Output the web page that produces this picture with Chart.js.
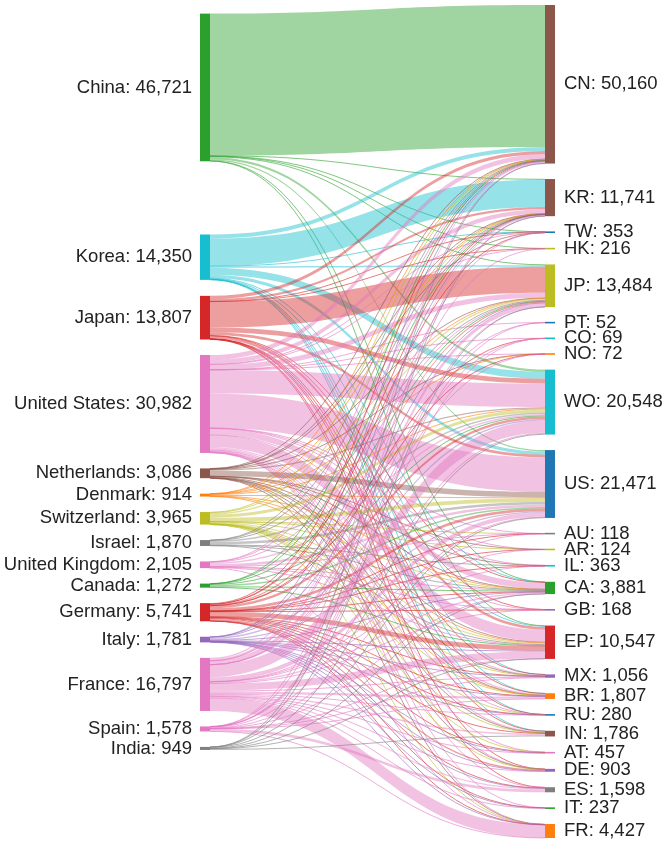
<!DOCTYPE html>
<html>
<head>
<meta charset="utf-8">
<script src="https://cdn.jsdelivr.net/npm/chart.js@4.4.1/dist/chart.umd.min.js"></script>
<style>
html,body{margin:0;padding:0;background:#ffffff;}
#wrap{width:666px;height:843px;position:relative;}
</style>
</head>
<body>
<div id="wrap"><canvas id="chart"></canvas></div>
<script>
// ---------------- data ----------------
const sources = ['China','Korea','Japan','United States','Netherlands','Denmark','Switzerland','Israel','United Kingdom','Canada','Germany','Italy','France','Spain','India'];
const targets = ['CN','KR','TW','HK','JP','PT','CO','NO','WO','US','AU','AR','IL','CA','GB','EP','MX','BR','RU','IN','AT','DE','ES','IT','FR'];

// flows from each source, in the order of `targets`
const fromChina       = [44900,150,20,100,250,0,0,0,700,471,0,0,0,30,0,100,0,0,0,0,0,0,0,0,0];
const fromKorea       = [1300,8700,30,0,500,0,0,0,2200,1020,0,0,0,100,0,300,30,70,20,80,0,0,0,0,0];
const fromJapan       = [1000,700,100,40,8200,0,0,0,1500,871,0,0,0,200,8,900,40,60,20,80,0,40,48,0,0];
const fromUS          = [1500,1350,150,50,1600,15,30,20,7500,10847,60,40,100,2000,40,3800,400,500,60,450,50,100,150,20,150];
const fromNetherlands = [100,50,13,0,150,0,0,10,400,1764,0,10,10,100,0,300,30,60,0,46,0,33,0,0,10];
const fromDenmark     = [50,20,0,0,60,0,0,12,300,265,0,0,0,30,0,150,0,27,0,0,0,0,0,0,0];
const fromSwitzerland = [200,100,0,0,500,0,0,0,1000,1215,10,10,0,150,0,400,60,120,20,80,30,50,0,0,20];
const fromIsrael      = [50,50,0,0,150,0,0,0,400,790,0,0,200,80,0,150,0,0,0,0,0,0,0,0,0];
const fromUK          = [100,60,0,0,200,0,0,0,500,788,10,0,0,100,80,250,0,0,0,0,0,0,0,0,17];
const fromCanada      = [50,20,0,0,80,0,0,0,300,422,0,0,0,300,0,100,0,0,0,0,0,0,0,0,0];
const fromGermany     = [300,100,20,0,400,0,9,10,800,870,8,14,13,150,10,1500,100,200,40,200,250,500,150,17,80];
const fromItaly       = [50,20,0,0,150,0,0,0,500,398,0,0,0,50,0,250,16,40,20,0,27,30,50,150,30];
const fromFrance      = [500,400,20,26,1200,20,20,20,3900,1391,30,50,40,500,30,2200,350,700,100,500,100,150,400,50,4100];
const fromSpain       = [30,10,0,0,30,17,10,0,300,171,0,0,0,30,0,100,30,30,0,0,0,0,800,0,20];
const fromIndia       = [30,11,0,0,14,0,0,0,248,188,0,0,0,61,0,47,0,0,0,350,0,0,0,0,0];

const flows = [fromChina, fromKorea, fromJapan, fromUS, fromNetherlands, fromDenmark, fromSwitzerland,
  fromIsrael, fromUK, fromCanada, fromGermany, fromItaly, fromFrance, fromSpain, fromIndia];

// ---------------- style ----------------
const C = {blue:'#1f77b4',orange:'#ff7f0e',green:'#2ca02c',red:'#d62728',purple:'#9467bd',
  brown:'#8c564b',pink:'#e377c2',gray:'#7f7f7f',olive:'#bcbd22',cyan:'#17becf'};
const sourceColors = [C.green,C.cyan,C.red,C.pink,C.brown,C.orange,C.olive,C.gray,C.pink,C.green,C.red,C.purple,C.pink,C.pink,C.gray];
const targetColors = [C.brown,C.brown,C.blue,C.olive,C.olive,C.blue,C.cyan,C.orange,C.cyan,C.blue,C.gray,C.olive,C.cyan,C.green,C.purple,C.red,C.purple,C.orange,C.blue,C.brown,C.pink,C.purple,C.gray,C.green,C.orange];
const NODE_PAD = 4900;     // gap between nodes, in value units
const NODE_W = 10;         // node thickness in px
const LINK_ALPHA = 0.45;
const THIN_ALPHA = 0.6;
const FIT_POWER = 1.38;    // how strongly big nodes hold their preferred place
const FONT = '18.5px "Liberation Sans", Arial, sans-serif';
const TEXT_COLOR = '#222222';

function rgba(hex, a){
  const n = parseInt(hex.slice(1),16);
  return `rgba(${(n>>16)&255},${(n>>8)&255},${n&255},${a})`;
}

const sourceTotals = flows.map(r => r.reduce((a,b)=>a+b,0));
const targetTotals = targets.map((_,j) => flows.reduce((a,r)=>a+r[j],0));
const Y_MAX = targetTotals.reduce((a,b)=>a+b,0) + (targets.length-1)*NODE_PAD;

function layout(){
  // right column: stacked in order
  const tY0 = []; let acc = 0;
  targets.forEach((_,j)=>{ tY0[j] = acc; acc += targetTotals[j] + NODE_PAD; });
  // offsets of each link inside its source / target node
  const outOff = flows.map(r => { let o=0; return r.map(v => { const s=o; o+=v; return s; }); });
  const inOff = flows.map(()=>[]);
  targets.forEach((_,j)=>{ let o=0; flows.forEach((r,i)=>{ inOff[i][j]=o; o+=r[j]; }); });
  // left column: ideal position making links as straight as possible
  const ideal = flows.map((r,i)=>{
    let num=0, den=0;
    r.forEach((v,j)=>{ if(v>0){ num += v*(tY0[j]+inOff[i][j]-outOff[i][j]); den += v; } });
    return num/den;
  });
  // keep order and padding: weighted isotonic fit (pool adjacent violators)
  const n = sources.length, c = []; let cc = 0;
  for(let i=0;i<n;i++){ c[i]=cc; cc += sourceTotals[i] + NODE_PAD; }
  const blocks = [];
  for(let i=0;i<n;i++){
    blocks.push({v: ideal[i]-c[i], w: Math.pow(sourceTotals[i], FIT_POWER), k: 1});
    while(blocks.length>1 && blocks[blocks.length-2].v > blocks[blocks.length-1].v){
      const b = blocks.pop(), a = blocks.pop();
      blocks.push({v:(a.v*a.w+b.v*b.w)/(a.w+b.w), w:a.w+b.w, k:a.k+b.k});
    }
  }
  const zMax = Y_MAX - c[n-1] - sourceTotals[n-1];
  const sY0 = []; let idx = 0;
  blocks.forEach(b=>{ const z=Math.min(Math.max(b.v,0),zMax); for(let t=0;t<b.k;t++){ sY0[idx]=z+c[idx]; idx++; } });
  return {tY0, sY0, outOff, inOff};
}

const sankeyPlugin = {
  id:'sankey',
  afterDatasetsDraw(chart){
    const {ctx} = chart;
    const xs = chart.scales.x, ys = chart.scales.y;
    const L = layout();
    const xL0 = xs.getPixelForValue(0), xL1 = xL0 + NODE_W;
    const xR1 = xs.getPixelForValue(1), xR0 = xR1 - NODE_W;
    const xm = (xL1 + xR0)/2;
    ctx.save();
    // links
    flows.forEach((r,i)=>{
      r.forEach((v,j)=>{
        if(!(v>0)) return;
        const a0 = L.sY0[i] + L.outOff[i][j];
        const b0 = L.tY0[j] + L.inOff[i][j];
        const ya0 = ys.getPixelForValue(a0), ya1 = ys.getPixelForValue(a0+v);
        const yb0 = ys.getPixelForValue(b0), yb1 = ys.getPixelForValue(b0+v);
        const w = ya1 - ya0;
        if(w >= 1.2){
          ctx.beginPath();
          ctx.moveTo(xL1, ya0);
          ctx.bezierCurveTo(xm, ya0, xm, yb0, xR0, yb0);
          ctx.lineTo(xR0, yb1);
          ctx.bezierCurveTo(xm, yb1, xm, ya1, xL1, ya1);
          ctx.closePath();
          ctx.fillStyle = rgba(sourceColors[i], LINK_ALPHA);
          ctx.fill();
        } else {
          const ca = (ya0+ya1)/2, cb = (yb0+yb1)/2;
          ctx.beginPath();
          ctx.moveTo(xL1, ca);
          ctx.bezierCurveTo(xm, ca, xm, cb, xR0, cb);
          ctx.lineWidth = 1;
          ctx.strokeStyle = rgba(sourceColors[i], THIN_ALPHA);
          ctx.stroke();
        }
      });
    });
    // nodes + labels
    ctx.font = FONT;
    ctx.textBaseline = 'middle';
    const drawNode = (x0, y0v, val, color) => {
      let p0 = ys.getPixelForValue(y0v), p1 = ys.getPixelForValue(y0v+val);
      if(p1-p0 < 1.6){ const m=(p0+p1)/2; p0=m-0.8; p1=m+0.8; }
      ctx.fillStyle = color;
      ctx.fillRect(x0, p0, NODE_W, p1-p0);
      return (p0+p1)/2;
    };
    sources.forEach((name,i)=>{
      const cy = drawNode(xL0, L.sY0[i], sourceTotals[i], sourceColors[i]);
      ctx.fillStyle = TEXT_COLOR; ctx.textAlign = 'right';
      ctx.fillText(name + ': ' + sourceTotals[i].toLocaleString('en-US'), xL0 - 8, cy);
    });
    targets.forEach((name,j)=>{
      const cy = drawNode(xR0, L.tY0[j], targetTotals[j], targetColors[j]);
      ctx.fillStyle = TEXT_COLOR; ctx.textAlign = 'left';
      ctx.fillText(name + ': ' + targetTotals[j].toLocaleString('en-US'), xR1 + 9, cy);
    });
    ctx.restore();
  }
};

new Chart(document.getElementById('chart'), {
  type: 'scatter',
  data: { datasets: [{ data: [], pointRadius: 0 }] },
  options: {
    responsive: true,
    maintainAspectRatio: false,
    animation: false,
    layout: { padding: { left: 200, right: 111, top: 5, bottom: 5 } },
    scales: {
      x: { type: 'linear', min: 0, max: 1, display: false },
      y: { type: 'linear', min: 0, max: Y_MAX, reverse: true, display: false }
    },
    plugins: { legend: { display: false }, tooltip: { enabled: false } }
  },
  plugins: [sankeyPlugin]
});
</script>
</body>
</html>
